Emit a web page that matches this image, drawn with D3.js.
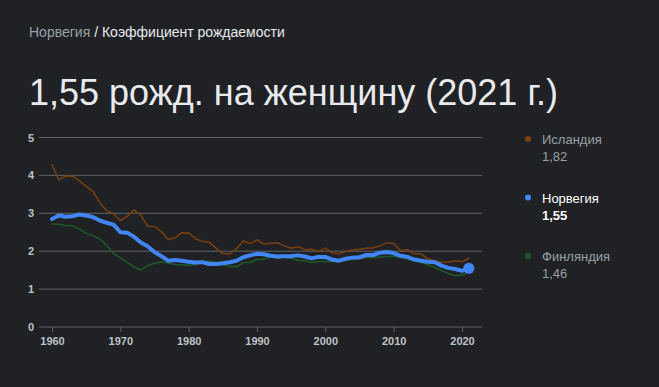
<!DOCTYPE html>
<html>
<head>
<meta charset="utf-8">
<script src="https://cdn.jsdelivr.net/npm/d3@7"></script>
<style>
  body { margin: 0; background: #202124; font-family: Arial, "Liberation Sans", sans-serif; }
  svg { display: block; }
</style>
</head>
<body>
<svg id="chart"></svg>
<script>
let w = 659;
let h = 387;

let years = d3.range(1960, 2022);
let yTicks = [0, 1, 2, 3, 4, 5];
let xTicks = [1960, 1970, 1980, 1990, 2000, 2010, 2020];

let iceland = [4.29, 3.88, 3.98, 3.98, 3.86, 3.71, 3.58, 3.28, 3.07, 2.99,
  2.81, 2.92, 3.09, 2.95, 2.66, 2.65, 2.52, 2.31, 2.35, 2.49,
  2.48, 2.33, 2.26, 2.24, 2.08, 1.93, 1.93, 2.07, 2.27, 2.20,
  2.30, 2.19, 2.21, 2.22, 2.14, 2.08, 2.12, 2.04, 2.05, 1.99,
  2.08, 1.95, 1.93, 1.99, 2.03, 2.05, 2.08, 2.09, 2.14, 2.22,
  2.20, 2.02, 2.04, 1.93, 1.93, 1.80, 1.75, 1.71, 1.71, 1.75,
  1.72, 1.82];

let norway = [2.85, 2.94, 2.91, 2.92, 2.97, 2.94, 2.90, 2.81, 2.75, 2.70,
  2.50, 2.49, 2.38, 2.23, 2.13, 1.98, 1.87, 1.75, 1.77, 1.75,
  1.72, 1.70, 1.71, 1.66, 1.66, 1.68, 1.71, 1.75, 1.84, 1.89,
  1.93, 1.92, 1.88, 1.86, 1.87, 1.87, 1.89, 1.86, 1.81, 1.85,
  1.85, 1.78, 1.75, 1.80, 1.83, 1.84, 1.90, 1.90, 1.96, 1.98,
  1.95, 1.88, 1.85, 1.78, 1.75, 1.72, 1.71, 1.62, 1.56, 1.53,
  1.48, 1.55];

let finland = [2.72, 2.71, 2.68, 2.67, 2.58, 2.47, 2.41, 2.32, 2.15, 1.94,
  1.83, 1.70, 1.59, 1.50, 1.62, 1.68, 1.72, 1.69, 1.65, 1.64,
  1.63, 1.65, 1.72, 1.74, 1.70, 1.64, 1.60, 1.59, 1.70, 1.71,
  1.78, 1.79, 1.85, 1.81, 1.85, 1.81, 1.76, 1.75, 1.70, 1.73,
  1.73, 1.73, 1.72, 1.76, 1.80, 1.80, 1.84, 1.83, 1.85, 1.86,
  1.87, 1.83, 1.80, 1.75, 1.71, 1.65, 1.57, 1.49, 1.41, 1.35,
  1.37, 1.46];

let seriesNames = ["Исландия", "Норвегия", "Финляндия"];
let seriesLabels = ["1,82", "1,55", "1,46"];
let seriesColors = ["#7b3f0e", "#4285f4", "#1f5a2b"];

let chart1 = d3.select("#chart")
  .attr("width", w)
  .attr("height", h);

// breadcrumb + title
let crumb = chart1.append("text")
  .attr("x", 29)
  .attr("y", 37)
  .attr("font-size", 14);
crumb.append("tspan").attr("fill", "#9aa0a6").text("Норвегия");
crumb.append("tspan").attr("fill", "#e8eaed").text(" / Коэффициент рождаемости");

chart1.append("text")
  .attr("x", 29)
  .attr("y", 105)
  .attr("font-size", 36)
  .attr("fill", "#e8eaed")
  .text("1,55 рожд. на женщину (2021 г.)");

let xScale = d3.scaleLinear()
  .domain([1960, 2020])
  .range([52, 462]);

let yScale = d3.scaleLinear()
  .domain([0, 5])
  .range([327, 137.5]);

// grid
chart1.append("g")
  .selectAll("line")
  .data(yTicks)
  .join("line")
  .attr("x1", 39)
  .attr("x2", 482)
  .attr("y1", d => yScale(d))
  .attr("y2", d => yScale(d))
  .attr("stroke", "#5f6368")
  .attr("stroke-width", 1);

let yAxis = d3.axisLeft(yScale)
  .tickValues(yTicks)
  .tickFormat(d3.format("d"))
  .tickSize(0)
  .tickPadding(5);

let yAxisGroup = chart1.append("g")
  .attr("transform", "translate(39, 0)")
  .call(yAxis);

let xAxis = d3.axisBottom(xScale)
  .tickValues(xTicks)
  .tickFormat(d3.format("d"))
  .tickSize(5)
  .tickPadding(5);

let xAxisGroup = chart1.append("g")
  .attr("transform", `translate(0, ${yScale(0)})`)
  .call(xAxis);

[yAxisGroup, xAxisGroup].forEach(g => {
  g.select(".domain").remove();
  g.selectAll("text")
    .attr("fill", "#bdc1c6")
    .attr("font-size", 11)
    .attr("font-weight", "bold")
    .attr("font-family", "Arial, 'Liberation Sans', sans-serif");
  g.selectAll("line").attr("stroke", "#5f6368");
});

// lines
let line = d3.line()
  .x((d, i) => xScale(years[i]))
  .y(d => yScale(d));

let allSeries = [iceland, finland, norway];
let order = [0, 2, 1];
allSeries.forEach((s, k) => {
  let idx = order[k];
  chart1.append("path")
    .datum(s)
    .attr("fill", "none")
    .attr("stroke", seriesColors[idx])
    .attr("stroke-width", idx === 1 ? 4 : 1.5)
    .attr("stroke-linejoin", "round")
    .attr("stroke-linecap", "round")
    .attr("d", line);
});

chart1.append("circle")
  .attr("cx", xScale(2021))
  .attr("cy", yScale(norway[norway.length - 1]))
  .attr("r", 5.5)
  .attr("fill", "#4285f4");

// legend
let legend = chart1.append("g")
  .selectAll("g")
  .data(seriesNames)
  .join("g")
  .attr("transform", (d, i) => `translate(528, ${139 + i * 58.5})`);

legend.append("circle")
  .attr("r", 3)
  .attr("fill", (d, i) => seriesColors[i]);

legend.append("text")
  .attr("x", 14)
  .attr("y", 5)
  .attr("font-size", 13)
  .attr("fill", (d, i) => i === 1 ? "#ffffff" : "#9aa0a6")
  .text(d => d);

legend.append("text")
  .attr("x", 14)
  .attr("y", 22)
  .attr("font-size", 13)
  .attr("fill", (d, i) => i === 1 ? "#ffffff" : "#9aa0a6")
  .attr("font-weight", (d, i) => i === 1 ? "bold" : "normal")
  .text((d, i) => seriesLabels[i]);
</script>
</body>
</html>
